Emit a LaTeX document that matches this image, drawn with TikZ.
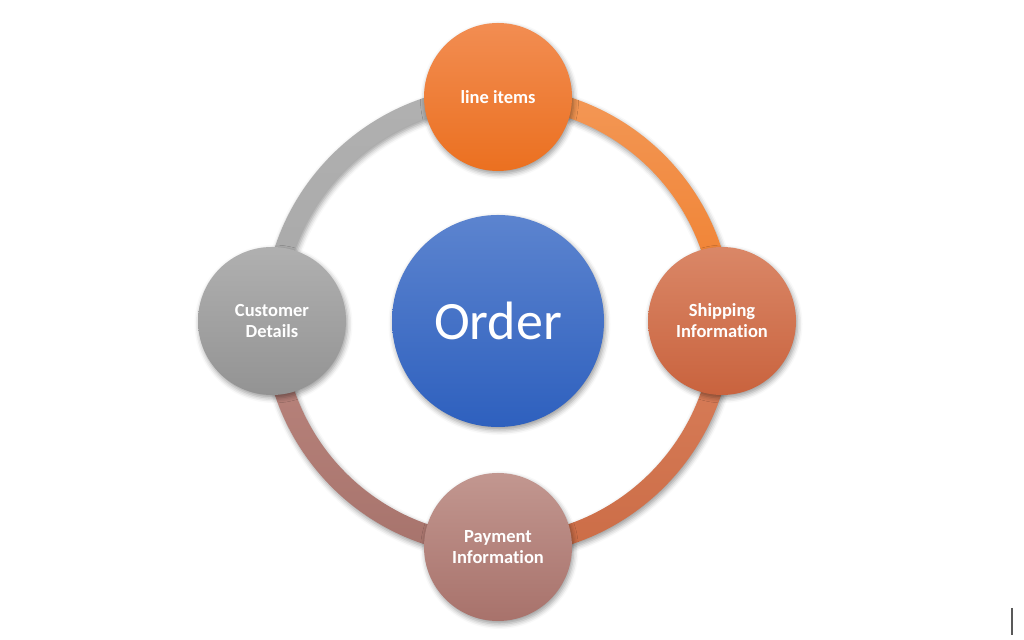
\documentclass[tikz,border=0pt]{standalone}
\usepackage{fontspec}
\setmainfont{Carlito}[RawFeature=-liga]
\usetikzlibrary{shadows.blur}
\definecolor{orTop}{HTML}{F28D52}
\definecolor{orBot}{HTML}{EB7020}
\definecolor{shTop}{HTML}{DA8767}
\definecolor{shBot}{HTML}{C9633E}
\definecolor{grTop}{HTML}{B0B0B0}
\definecolor{grBot}{HTML}{939393}
\definecolor{pyTop}{HTML}{C29790}
\definecolor{pyBot}{HTML}{A8726B}
\definecolor{blTop}{HTML}{5C84CF}
\definecolor{blBot}{HTML}{2E60BE}
\definecolor{ringOr}{HTML}{F07E2C}
\definecolor{ringGr}{HTML}{A8A8A8}
\definecolor{ringPk}{HTML}{B98078}
\definecolor{ringSh}{HTML}{D6724A}
\tikzset{
  softshadow/.style={blur shadow={shadow xshift=1.5pt, shadow yshift=-3pt, shadow blur radius=5pt, shadow opacity=40}},
  sat/.style={circle, minimum size=148pt, inner sep=0pt, text=white, align=center,
    font=\fontsize{18.5}{21}\selectfont\bfseries, softshadow},
  hub/.style={circle, minimum size=212pt, inner sep=0pt, text=white,
    font=\fontsize{54}{60}\selectfont, softshadow},
}
\begin{document}
\begin{tikzpicture}[x=1pt,y=1pt]
\useasboundingbox (0,0) rectangle (1024,639);
\coordinate (C) at (498,318);
% ring segments
\begin{scope}[shift={(498,318)}]
\path[softshadow, top color=ringOr!80!white, bottom color=ringOr] (0:235) arc[start angle=0, end angle=90, radius=235] -- (90:215) arc[start angle=90, end angle=0, radius=215] -- cycle;
\path[softshadow, top color=ringGr!90!white, bottom color=ringGr] (90:235) arc[start angle=90, end angle=180, radius=235] -- (180:215) arc[start angle=180, end angle=90, radius=215] -- cycle;
\path[softshadow, top color=ringPk!95!white, bottom color=ringPk!90!black] (180:235) arc[start angle=180, end angle=270, radius=235] -- (270:215) arc[start angle=270, end angle=180, radius=215] -- cycle;
\path[softshadow, top color=ringSh!90!white, bottom color=ringSh!95!black] (270:235) arc[start angle=270, end angle=360, radius=235] -- (360:215) arc[start angle=360, end angle=270, radius=215] -- cycle;
\end{scope}
% satellites
\node[sat, top color=orTop, bottom color=orBot] (items) at (498,542) {line items};
\node[sat, top color=shTop, bottom color=shBot] (ship) at (722,318) {Shipping\\Information};
\node[sat, top color=grTop, bottom color=grBot] (cust) at (272,318) {Customer\\Details};
\node[sat, top color=pyTop, bottom color=pyBot] (pay) at (498,92) {Payment\\Information};
% hub
\node[hub, top color=blTop, bottom color=blBot] (order) at (C) {Order};
% cursor mark
\coordinate (m1) at (1012,31);
\coordinate (m2) at (1012,4);
\draw[line width=1.5pt, black!65] (m1) -- (m2);
\end{tikzpicture}
\end{document}
